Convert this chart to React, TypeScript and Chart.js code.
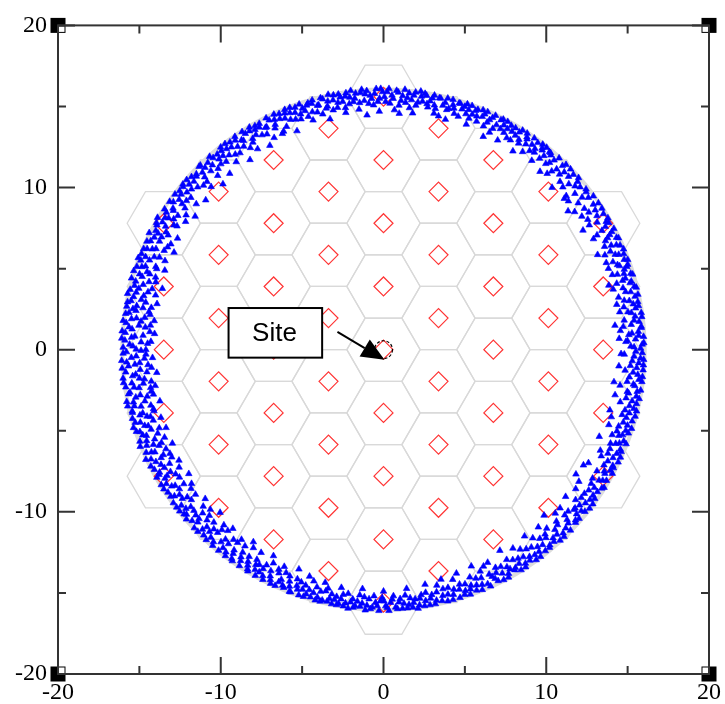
import React, { useEffect, useRef } from "react";
import { Chart, registerables } from "chart.js";

Chart.register(...registerables);

// ---- axes ----
const X_MIN = -20;
const X_MAX = 20;
const Y_MIN = -20;
const Y_MAX = 20;
const MAJOR_TICKS = [-20, -10, 0, 10, 20];
const MINOR_TICKS = [-15, -5, 5, 15];

// ---- cell sites (hexagon centres) ----
const SITE_X = [
  0, 0, 0, 0, 0, 0, 0, 0, 0,
  3.38, 3.38, 3.38, 3.38, 3.38, 3.38, 3.38, 3.38,
  -3.38, -3.38, -3.38, -3.38, -3.38, -3.38, -3.38, -3.38,
  6.75, 6.75, 6.75, 6.75, 6.75, 6.75, 6.75,
  -6.75, -6.75, -6.75, -6.75, -6.75, -6.75, -6.75,
  10.13, 10.13, 10.13, 10.13, 10.13, 10.13,
  -10.13, -10.13, -10.13, -10.13, -10.13, -10.13,
  13.5, 13.5, 13.5, 13.5, 13.5,
  -13.5, -13.5, -13.5, -13.5, -13.5,
];
const SITE_Y = [
  15.6, 11.7, 7.8, 3.9, 0, -3.9, -7.8, -11.7, -15.6,
  13.65, 9.75, 5.85, 1.95, -1.95, -5.85, -9.75, -13.65,
  13.65, 9.75, 5.85, 1.95, -1.95, -5.85, -9.75, -13.65,
  11.7, 7.8, 3.9, 0, -3.9, -7.8, -11.7,
  11.7, 7.8, 3.9, 0, -3.9, -7.8, -11.7,
  9.75, 5.85, 1.95, -1.95, -5.85, -9.75,
  9.75, 5.85, 1.95, -1.95, -5.85, -9.75,
  7.8, 3.9, 0, -3.9, -7.8,
  7.8, 3.9, 0, -3.9, -7.8,
];
const HEX_RADIUS = 2.25;
const HEX_HALF_HEIGHT = 1.95;
const COVERAGE_RADIUS = 16.05;

// ---- user positions: [angle in degrees, distance from site] ----
const UE_POLAR_A: [number, number][] = [
  [0.3, 15.8], [0.8, 15.2], [1.2, 15.9], [1.9, 14.9], [2.4, 15.5], [2.9, 16.0], [3.5, 15.1], [4.1, 15.7], [4.6, 14.6], [5.2, 15.9], [5.8, 15.3], [6.3, 15.8], [7.0, 14.9], [7.6, 15.6], [8.2, 16.0], [8.8, 15.2], [9.4, 15.7],
  [10.1, 15.0], [10.7, 15.9], [11.3, 15.4], [12.0, 15.8], [12.6, 14.8], [13.2, 15.6], [13.9, 16.0], [14.5, 15.2], [15.2, 15.7], [15.9, 14.9], [16.5, 15.5], [17.2, 15.9], [17.9, 15.1], [18.5, 15.6], [19.3, 15.9],
  [20.0, 15.3], [20.6, 15.8], [21.4, 14.7], [22.1, 15.6], [22.8, 16.0], [23.5, 15.2], [24.3, 15.7], [25.1, 15.0], [25.8, 15.9], [26.6, 15.4], [27.4, 15.8], [28.3, 14.9], [29.1, 15.6],
  [30.0, 15.8], [30.9, 15.3], [31.8, 15.9], [32.6, 14.9], [33.5, 15.6], [34.4, 16.0], [35.2, 15.1], [35.9, 14.5], [36.7, 15.7], [37.6, 15.4], [38.5, 15.9], [39.3, 15.2],
  [40.2, 14.7], [41.0, 15.8], [41.9, 15.3], [42.8, 15.9], [43.7, 15.0], [44.6, 15.6], [45.5, 16.0], [46.3, 15.4], [47.2, 14.8], [48.1, 15.7], [49.0, 15.2], [49.8, 15.9],
  [50.5, 15.5], [51.2, 16.0], [51.9, 15.8], [52.7, 15.3], [53.4, 15.9], [54.2, 15.6], [55.0, 14.9], [55.8, 15.7], [56.5, 16.0], [57.3, 15.4], [58.1, 15.8], [58.9, 15.1], [59.6, 15.6],
  [60.4, 15.9], [61.1, 15.3], [61.9, 15.7], [62.6, 16.0], [63.4, 15.5], [64.1, 14.9], [64.9, 15.8], [65.6, 15.4], [66.4, 16.0], [67.1, 15.6], [67.9, 15.2], [68.6, 15.9], [69.4, 15.5],
  [70.1, 16.0], [70.8, 15.4], [71.6, 15.8], [72.3, 15.1], [73.0, 15.9], [73.8, 15.5], [74.5, 16.0], [75.3, 15.3], [76.0, 15.7], [76.8, 14.8], [77.5, 15.9], [78.3, 15.4], [79.0, 15.8], [79.7, 15.2],
  [80.4, 15.9], [81.1, 15.5], [81.8, 16.1], [82.5, 15.2], [83.2, 15.8], [83.9, 15.0], [84.6, 15.6], [85.3, 16.1], [86.0, 15.4], [86.7, 15.9], [87.4, 14.8], [88.1, 15.7], [88.8, 16.1], [89.5, 15.3],
  [90.2, 15.9], [90.9, 15.5], [91.6, 16.1], [92.3, 15.1], [93.0, 15.7], [93.7, 16.0], [94.4, 15.4], [95.1, 15.9], [95.8, 14.9], [96.5, 15.6], [97.2, 16.1], [97.9, 15.3], [98.6, 15.8], [99.3, 15.5],
  [100.0, 16.0], [100.7, 15.2], [101.4, 15.7], [102.2, 16.1], [102.9, 15.4], [103.6, 15.9], [104.4, 15.0], [105.1, 15.6], [105.9, 16.0], [106.6, 15.3], [107.4, 15.8], [108.1, 15.5], [108.9, 16.0], [109.6, 15.1],
  [110.4, 15.6], [111.1, 16.0], [111.9, 15.3], [112.6, 15.8], [113.4, 15.0], [114.1, 15.6], [114.9, 16.0], [115.6, 15.4], [116.4, 15.8], [117.2, 14.7], [117.9, 15.5], [118.7, 15.9], [119.4, 15.2],
  [120.2, 15.7], [121.0, 16.0], [121.7, 15.3], [122.5, 15.8], [123.3, 14.9], [124.0, 15.6], [124.8, 16.0], [125.6, 15.4], [126.4, 15.9], [127.1, 15.1], [127.9, 15.7], [128.7, 16.0], [129.5, 15.5],
  [130.3, 15.8], [131.1, 15.2], [131.9, 16.0], [132.7, 15.5], [133.5, 14.8], [134.3, 15.7], [135.1, 16.0], [135.9, 15.3], [136.7, 15.8], [137.5, 15.0], [138.3, 15.6], [139.1, 16.0],
  [140.0, 15.4], [140.8, 15.9], [141.6, 15.1], [142.4, 15.7], [143.2, 16.0], [144.0, 15.3], [144.8, 15.8], [145.6, 14.7], [146.4, 15.5], [147.2, 16.0], [148.0, 15.2], [148.8, 15.7], [149.6, 16.1],
  [150.4, 15.4], [151.1, 15.9], [151.9, 15.0], [152.6, 15.6], [153.4, 16.1], [154.1, 15.3], [154.9, 15.8], [155.6, 14.8], [156.4, 15.5], [157.1, 16.0], [157.9, 15.2], [158.6, 15.7], [159.4, 16.1], [159.9, 14.9],
  [160.6, 15.5], [161.3, 16.0], [162.0, 15.1], [162.7, 15.7], [163.4, 14.6], [164.1, 16.1], [164.8, 15.3], [165.5, 15.8], [166.2, 14.9], [166.9, 15.6], [167.6, 16.1], [168.3, 15.2], [169.0, 15.8], [169.7, 14.5], [169.9, 15.4],
  [170.4, 16.0], [171.0, 15.4], [171.7, 15.8], [172.3, 14.8], [173.0, 15.6], [173.6, 16.1], [174.3, 15.1], [174.9, 15.7], [175.6, 14.4], [176.2, 15.9], [176.9, 15.3], [177.5, 16.1], [178.2, 14.9], [178.8, 15.6], [179.5, 16.0], [179.9, 15.2],
  [180.5, 15.8], [181.1, 14.6], [181.8, 15.5], [182.4, 16.1], [183.1, 15.0], [183.7, 15.7], [184.4, 14.3], [185.0, 15.9], [185.7, 15.3], [186.3, 16.1], [187.0, 14.8], [187.6, 15.6], [188.3, 16.0], [188.9, 15.2], [189.6, 15.8],
  [190.2, 14.5], [190.9, 15.5], [191.5, 16.1], [192.2, 15.0], [192.8, 15.7], [193.5, 14.7], [194.1, 15.9], [194.8, 15.3], [195.4, 16.0], [196.1, 14.9], [196.7, 15.6], [197.4, 16.1], [198.0, 15.2], [198.7, 15.8], [199.3, 14.6],
  [200.0, 15.5], [200.7, 16.0], [201.4, 15.1], [202.1, 15.7], [202.8, 14.8], [203.5, 15.9], [204.2, 15.4], [204.9, 16.1], [205.6, 15.0], [206.3, 15.6], [207.0, 14.6], [207.7, 15.9], [208.4, 15.3], [209.2, 15.8],
  [209.9, 15.1], [210.6, 15.6], [211.4, 16.0], [212.1, 14.8], [212.9, 15.5], [213.6, 15.9], [214.4, 15.2], [215.1, 15.7], [215.9, 14.6], [216.6, 15.4], [217.4, 16.0], [218.1, 15.0], [218.9, 15.6], [219.6, 15.9],
  [220.4, 15.3], [221.1, 14.7], [221.9, 15.8], [222.6, 15.4], [223.4, 16.0], [224.1, 15.1], [224.9, 15.7], [225.6, 14.9], [226.4, 15.5], [227.1, 16.0], [227.9, 15.2], [228.6, 15.8], [229.4, 14.7], [229.9, 15.5],
  [230.7, 16.0], [231.5, 15.3], [232.2, 15.8], [233.0, 14.9], [233.7, 15.6], [234.5, 16.0], [235.3, 15.2], [236.0, 15.7], [236.8, 14.6], [237.5, 15.5], [238.3, 15.9], [239.0, 15.1], [239.8, 15.7],
  [240.5, 16.0], [241.3, 15.4], [242.0, 15.8], [242.8, 14.8], [243.5, 15.6], [244.3, 16.0], [245.0, 15.2], [245.8, 15.7], [246.5, 15.0], [247.3, 15.9], [248.0, 15.4], [248.8, 16.0], [249.5, 15.1],
  [250.3, 15.7], [251.0, 16.0], [251.8, 15.3], [252.5, 15.8], [253.3, 14.9], [254.0, 15.6], [254.8, 16.0], [255.5, 15.4], [256.3, 15.9], [257.0, 15.1], [257.8, 15.7], [258.5, 16.0], [259.3, 15.5],
  [260.0, 15.9], [260.7, 15.3], [261.5, 15.8], [262.2, 16.1], [263.0, 15.5], [263.7, 15.9], [264.5, 15.2], [265.2, 15.7], [266.0, 16.1], [266.7, 15.4], [267.5, 15.9], [268.2, 15.6], [269.0, 16.1], [269.7, 15.3],
  [270.5, 15.8], [271.2, 16.1], [272.0, 15.4], [272.7, 15.9], [273.5, 15.6], [274.2, 16.0], [275.0, 15.2], [275.7, 15.8], [276.5, 16.0], [277.2, 15.5], [278.0, 15.9], [278.7, 15.3], [279.5, 15.7],
  [280.3, 16.0], [281.1, 15.4], [281.9, 15.8], [282.7, 14.9], [283.5, 15.6], [284.3, 16.0], [285.1, 15.2], [285.9, 15.7], [286.7, 14.8], [287.5, 15.5], [288.3, 15.9], [289.1, 15.3], [289.9, 15.7],
  [290.7, 15.0], [291.5, 15.6], [292.3, 16.0], [293.1, 15.3], [293.9, 15.8], [294.7, 14.7], [295.5, 15.5], [296.3, 15.9], [297.1, 15.1], [297.9, 15.6], [298.7, 16.0], [299.5, 15.4],
  [300.3, 15.0], [301.1, 15.7], [301.9, 16.0], [302.7, 15.3], [303.5, 15.8], [304.3, 14.9], [305.1, 15.6], [305.9, 16.0], [306.7, 15.2], [307.5, 15.7], [308.3, 14.8], [309.1, 15.5], [309.9, 15.9],
  [310.7, 15.3], [311.5, 15.8], [312.3, 14.9], [313.1, 15.6], [313.9, 16.0], [314.7, 15.2], [315.5, 15.7], [316.3, 14.6], [317.1, 15.4], [317.9, 15.9], [318.7, 15.1], [319.5, 15.6],
  [320.3, 15.3], [321.1, 15.9], [321.9, 15.0], [322.7, 15.6], [323.5, 16.0], [324.3, 15.2], [325.1, 15.7], [325.9, 14.5], [326.7, 15.5], [327.5, 15.9], [328.3, 15.1], [329.1, 15.7], [329.9, 14.2],
  [330.7, 15.6], [331.5, 16.0], [332.3, 15.3], [333.1, 15.8], [333.9, 14.9], [334.7, 15.6], [335.5, 16.0], [336.3, 15.2], [337.1, 15.8], [337.9, 15.4], [338.7, 16.0], [339.5, 15.0],
  [340.3, 15.6], [341.1, 15.9], [341.9, 15.2], [342.7, 15.7], [343.5, 14.6], [344.3, 15.5], [345.1, 16.0], [345.9, 15.3], [346.7, 15.8], [347.5, 14.9], [348.3, 15.6], [349.1, 16.0], [349.9, 15.3],
  [350.6, 15.8], [351.4, 14.7], [352.1, 15.5], [352.9, 16.0], [353.6, 15.2], [354.4, 15.7], [355.1, 14.9], [355.9, 15.6], [356.6, 16.0], [357.4, 15.3], [358.1, 15.8], [358.9, 14.8], [359.6, 15.5],
];

const UE_POLAR_B: [number, number][] = [
  [0.6, 15.4], [1.5, 16.0], [2.1, 15.0], [3.2, 15.7], [3.8, 15.3], [4.9, 15.9], [5.5, 14.8], [6.7, 15.5], [7.3, 16.0], [8.5, 15.4], [9.1, 14.7], [9.8, 15.9],
  [10.4, 15.6], [11.6, 15.1], [12.3, 16.0], [13.5, 15.3], [14.2, 15.9], [14.8, 14.6], [15.5, 15.8], [16.2, 15.3], [16.9, 16.0], [17.6, 15.5], [18.2, 14.8], [18.9, 15.8], [19.6, 15.4],
  [20.3, 16.0], [21.0, 15.1], [21.8, 15.9], [22.4, 15.4], [23.2, 14.8], [23.9, 15.9], [24.7, 15.4], [25.5, 16.0], [26.2, 15.2], [27.0, 15.6], [27.8, 16.0], [28.7, 15.3], [29.5, 15.9],
  [30.5, 16.0], [31.3, 14.8], [32.2, 15.5], [33.0, 16.0], [33.9, 15.2], [34.8, 15.7], [36.3, 16.0], [37.1, 15.0], [38.0, 15.8], [38.9, 14.6], [39.7, 15.7],
  [40.6, 15.5], [41.5, 16.0], [42.3, 14.9], [43.2, 15.6], [44.1, 16.0], [45.0, 15.3], [45.9, 15.8], [46.8, 15.1], [47.6, 16.0], [48.5, 15.4], [49.4, 15.8],
  [50.1, 15.9], [50.9, 15.2], [51.6, 15.7], [52.3, 16.0], [53.1, 15.5], [53.8, 15.2], [54.6, 16.0], [55.4, 15.4], [56.1, 15.8], [56.9, 15.2], [57.7, 16.0], [58.5, 15.5], [59.3, 15.9], [59.9, 15.1],
  [60.8, 15.6], [61.5, 16.0], [62.2, 15.4], [63.0, 15.9], [63.8, 15.2], [64.5, 16.0], [65.3, 15.6], [66.0, 15.1], [66.8, 15.8], [67.5, 16.0], [68.3, 15.5], [69.0, 15.8], [69.8, 15.2],
  [70.5, 15.7], [71.2, 16.0], [72.0, 15.6], [72.7, 15.9], [73.4, 15.2], [74.2, 15.7], [74.9, 15.4], [75.7, 16.0], [76.4, 15.5], [77.2, 15.9], [77.9, 15.2], [78.7, 16.0], [79.4, 15.6],
  [80.0, 15.4], [80.8, 16.0], [81.5, 15.8], [82.1, 15.4], [82.9, 16.0], [83.6, 15.5], [84.3, 15.9], [84.9, 15.3], [85.7, 15.7], [86.4, 15.1], [87.1, 16.0], [87.8, 15.5], [88.5, 15.2], [89.2, 15.9], [89.8, 15.6],
  [90.6, 16.1], [91.3, 15.3], [92.0, 15.8], [92.7, 15.5], [93.4, 15.2], [94.1, 15.8], [94.8, 16.1], [95.5, 15.3], [96.2, 15.9], [96.9, 15.4], [97.6, 15.7], [98.3, 16.0], [98.9, 15.1], [99.7, 15.8],
  [100.4, 15.5], [101.1, 16.0], [101.8, 15.1], [102.6, 15.7], [103.3, 15.3], [104.0, 16.0], [104.8, 15.6], [105.5, 15.2], [106.2, 15.8], [107.0, 15.9], [107.8, 15.1], [108.5, 15.7], [109.3, 15.4],
  [110.0, 15.9], [110.8, 15.2], [111.5, 15.7], [112.3, 16.0], [113.0, 15.5], [113.8, 15.9], [114.5, 14.8], [115.3, 15.7], [116.0, 15.2], [116.8, 16.0], [117.6, 15.5], [118.3, 15.1], [119.1, 15.7], [119.8, 15.9],
  [120.6, 15.4], [121.4, 15.8], [122.1, 15.1], [122.9, 16.0], [123.7, 15.5], [124.4, 15.2], [125.2, 15.8], [126.0, 15.0], [126.8, 15.6], [127.5, 16.0], [128.3, 15.3], [129.1, 15.8], [129.8, 15.1],
  [130.7, 15.5], [131.5, 15.8], [132.3, 15.1], [133.1, 15.8], [133.9, 15.3], [134.7, 16.0], [135.5, 15.6], [136.3, 15.0], [137.1, 15.7], [137.9, 15.9], [138.7, 15.2], [139.5, 15.7],
  [140.4, 16.0], [141.2, 15.5], [142.0, 15.9], [142.8, 15.2], [143.6, 15.6], [144.4, 15.0], [145.2, 16.0], [146.0, 15.6], [146.8, 15.1], [147.6, 15.8], [148.4, 15.5], [149.2, 15.0], [149.9, 15.7],
  [150.7, 16.0], [151.5, 15.2], [152.3, 15.8], [153.0, 15.3], [153.8, 15.7], [154.5, 14.7], [155.3, 16.0], [156.0, 15.3], [156.8, 15.8], [157.5, 14.9], [158.3, 16.0], [159.0, 15.4], [159.7, 15.9],
  [160.3, 14.8], [161.0, 15.7], [161.7, 15.3], [162.4, 16.1], [163.1, 15.5], [163.8, 15.0], [164.5, 15.8], [165.2, 14.7], [165.9, 15.5], [166.6, 16.0], [167.3, 15.1], [168.0, 15.7], [168.7, 14.9], [169.4, 16.0],
  [170.1, 15.0], [170.7, 15.6], [171.4, 14.5], [172.0, 16.0], [172.7, 15.3], [173.3, 15.0], [174.0, 15.9], [174.6, 14.7], [175.3, 15.5], [175.9, 16.1], [176.6, 14.8], [177.2, 15.5], [177.9, 15.9], [178.5, 14.5], [179.2, 15.4],
  [180.2, 14.9], [180.8, 16.0], [181.5, 15.2], [182.1, 14.7], [182.8, 15.8], [183.4, 15.3], [184.1, 16.1], [184.7, 15.0], [185.4, 14.6], [186.0, 15.5], [186.7, 15.1], [187.3, 16.1], [188.0, 14.9], [188.6, 15.5], [189.3, 14.5], [189.9, 15.9],
  [190.6, 15.2], [191.2, 14.8], [191.9, 15.7], [192.5, 16.1], [193.2, 15.3], [193.8, 15.9], [194.5, 14.6], [195.1, 15.5], [195.8, 15.1], [196.4, 15.9], [197.1, 14.8], [197.7, 15.4], [198.4, 16.0], [199.0, 15.1], [199.6, 15.7],
  [200.4, 14.8], [201.1, 15.6], [201.8, 16.1], [202.5, 15.3], [203.2, 15.0], [203.9, 15.6], [204.6, 14.7], [205.3, 15.8], [206.0, 15.2], [206.7, 16.0], [207.4, 15.4], [208.1, 14.9], [208.8, 15.7], [209.5, 16.0],
  [210.3, 15.4], [211.0, 14.9], [211.8, 15.7], [212.5, 16.0], [213.2, 15.3], [214.0, 14.8], [214.7, 15.9], [215.5, 15.4], [216.2, 16.0], [217.0, 15.1], [217.7, 15.7], [218.5, 16.0], [219.3, 15.3],
  [220.0, 15.8], [220.8, 16.0], [221.5, 15.4], [222.2, 15.0], [223.0, 15.6], [223.7, 14.8], [224.5, 16.0], [225.2, 15.4], [226.0, 15.9], [226.7, 15.2], [227.5, 15.7], [228.2, 14.9], [229.0, 16.0],
  [230.3, 15.2], [231.1, 15.7], [231.8, 14.9], [232.6, 16.0], [233.4, 15.4], [234.1, 15.9], [234.9, 14.8], [235.6, 15.5], [236.4, 16.0], [237.1, 15.2], [237.9, 15.7], [238.6, 16.0], [239.4, 15.4],
  [240.1, 15.3], [240.9, 15.7], [241.6, 15.1], [242.4, 16.0], [243.1, 15.3], [243.9, 15.8], [244.6, 15.0], [245.4, 16.0], [246.1, 15.5], [246.9, 15.8], [247.6, 15.1], [248.4, 15.7], [249.1, 16.0], [249.9, 15.5],
  [250.6, 15.2], [251.4, 15.6], [252.1, 16.0], [252.9, 15.5], [253.6, 15.9], [254.4, 15.2], [255.1, 15.8], [255.9, 16.0], [256.6, 15.3], [257.4, 15.9], [258.1, 15.4], [258.9, 15.7], [259.6, 16.0],
  [260.4, 15.6], [261.1, 16.0], [261.8, 15.2], [262.6, 15.7], [263.3, 16.0], [264.1, 15.6], [264.8, 15.9], [265.6, 15.3], [266.3, 15.8], [267.1, 16.0], [267.8, 15.2], [268.6, 15.8], [269.3, 15.5],
  [270.1, 15.5], [270.8, 15.9], [271.6, 15.6], [272.3, 15.2], [273.1, 16.0], [273.8, 15.4], [274.6, 15.7], [275.3, 16.0], [276.1, 15.4], [276.8, 15.7], [277.6, 16.1], [278.3, 15.5], [279.1, 16.0], [279.8, 15.2],
  [280.7, 15.6], [281.5, 16.0], [282.3, 15.3], [283.1, 15.9], [283.9, 15.2], [284.7, 15.6], [285.5, 16.0], [286.3, 15.4], [287.1, 16.0], [287.9, 15.2], [288.7, 15.7], [289.5, 16.0],
  [290.3, 15.5], [291.1, 15.9], [291.9, 15.2], [292.7, 15.7], [293.5, 14.9], [294.3, 16.0], [295.1, 15.3], [295.9, 15.7], [296.7, 15.4], [297.5, 16.0], [298.3, 15.2], [299.1, 15.8], [299.9, 15.6],
  [300.7, 15.8], [301.5, 15.2], [302.3, 15.6], [303.1, 16.0], [303.9, 15.4], [304.7, 15.8], [305.5, 15.1], [306.3, 15.7], [307.1, 16.0], [307.9, 15.4], [308.7, 15.9], [309.5, 15.1],
  [310.3, 15.8], [311.1, 15.1], [311.9, 15.6], [312.7, 16.0], [313.5, 15.3], [314.3, 15.8], [315.1, 15.0], [315.9, 16.0], [316.7, 15.6], [317.5, 15.1], [318.3, 15.8], [319.1, 15.9], [319.9, 15.3],
  [320.7, 15.7], [321.5, 15.4], [322.3, 16.0], [323.1, 15.2], [323.9, 15.7], [324.7, 15.9], [325.5, 15.3], [326.3, 15.8], [327.1, 15.2], [327.9, 16.0], [328.7, 15.5], [329.5, 15.9],
  [330.3, 15.1], [331.1, 15.5], [331.9, 15.8], [332.7, 15.9], [333.5, 15.4], [334.3, 16.0], [335.1, 15.2], [335.9, 15.7], [336.7, 15.9], [337.5, 15.1], [338.3, 15.6], [339.1, 15.8], [339.9, 15.4],
  [340.7, 15.2], [341.5, 15.7], [342.3, 16.0], [343.1, 15.4], [343.9, 15.9], [344.7, 15.2], [345.5, 15.6], [346.3, 16.0], [347.1, 15.5], [347.9, 15.9], [348.7, 15.2], [349.5, 15.8],
  [350.2, 15.2], [351.0, 16.0], [351.8, 15.6], [352.5, 15.1], [353.3, 15.8], [354.0, 16.0], [354.8, 15.4], [355.5, 16.0], [356.3, 15.2], [357.0, 15.7], [357.8, 16.0], [358.5, 15.4], [359.3, 15.9],
];

// inner stragglers of the user band
const UE_POLAR_C: [number, number][] = [
  [2.7, 14.5], [6.0, 14.3], [11.0, 14.6], [16.0, 14.4], [19.9, 14.7], [24.0, 14.4], [27.9, 14.6], [31.0, 14.3], [34.0, 14.7], [37.0, 14.2],
  [40.0, 14.5], [44.0, 14.4], [48.8, 14.6], [52.0, 14.8], [57.0, 14.6], [61.5, 14.7], [65.0, 14.5], [69.9, 14.8], [75.0, 14.7], [78.0, 14.9],
  [83.0, 14.7], [86.2, 14.6], [91.0, 14.7], [94.0, 14.5], [99.0, 14.8], [103.0, 14.6], [107.0, 14.8], [111.5, 14.5], [115.0, 14.7], [119.0, 14.4],
  [122.0, 14.6], [125.0, 14.3], [128.0, 14.7], [131.0, 14.4], [134.0, 14.2], [136.5, 14.6], [139.8, 14.3], [142.0, 14.6], [144.6, 14.2], [147.0, 14.5],
  [149.0, 14.8], [151.5, 14.4], [153.5, 14.6], [155.0, 14.2], [157.8, 14.5], [160.0, 14.3], [162.3, 14.7], [164.5, 14.1], [166.5, 14.4], [168.5, 14.2],
  [170.8, 14.6], [172.8, 14.2], [174.0, 14.4], [176.0, 14.1], [178.0, 14.3], [180.0, 14.6], [182.0, 14.2], [183.7, 14.5], [185.8, 14.0], [187.8, 14.4],
  [189.0, 14.2], [191.0, 14.4], [193.0, 14.1], [195.0, 14.6], [197.0, 14.3], [199.8, 14.2], [201.9, 14.5], [204.0, 14.2], [206.0, 14.6], [208.5, 14.3],
  [210.0, 14.5], [212.6, 14.2], [215.0, 14.4], [217.7, 14.6], [220.0, 14.3], [222.8, 14.5], [225.0, 14.2], [227.8, 14.6], [230.0, 14.4], [233.3, 14.6],
  [236.0, 14.3], [239.0, 14.6], [242.0, 14.4], [245.5, 14.7], [249.0, 14.5], [252.0, 14.7], [256.0, 14.8], [260.0, 14.9], [265.0, 14.8], [270.0, 14.9],
  [275.5, 14.8], [280.0, 14.7], [284.0, 14.6], [288.0, 14.5], [292.0, 14.4], [296.0, 14.6], [300.0, 14.3], [303.0, 14.6], [307.0, 14.4], [311.0, 14.5],
  [314.0, 14.2], [318.0, 14.6], [321.0, 14.4], [324.0, 14.6], [327.0, 14.1], [331.0, 14.4], [335.0, 14.7], [338.0, 14.3], [341.5, 14.6], [345.0, 14.4],
  [348.9, 14.5], [352.0, 14.3], [356.0, 14.5], [359.0, 14.6],
];

// ---- annotation ("Site" box and arrow), in data units ----
const LABEL_TEXT = "Site";
const LABEL_BOX = { x1: -9.52, x2: -3.77, y1: 2.57, y2: -0.49 };
const LABEL_POS = { x: -6.7, y: 1.0 };
const ARROW_FROM = { x: -2.83, y: 1.1 };
const ARROW_TO = { x: 0.06, y: -0.62 };
const SITE_MARK_RADIUS = 0.55;

const SERIF = "'Liberation Serif', 'Times New Roman', serif";

const backgroundPlugin = {
  id: "hexBackground",
  beforeDatasetsDraw(chart: any) {
    const { ctx, scales } = chart;
    const xs = scales.x;
    const ys = scales.y;
    const area = chart.chartArea;
    ctx.save();
    ctx.beginPath();
    ctx.rect(area.left, area.top, area.right - area.left, area.bottom - area.top);
    ctx.clip();
    ctx.strokeStyle = "#d9d9d9";
    ctx.lineWidth = 1.3;
    for (let i = 0; i < SITE_X.length; i++) {
      const cx = SITE_X[i];
      const cy = SITE_Y[i];
      const verts = [
        [cx + HEX_RADIUS, cy],
        [cx + HEX_RADIUS / 2, cy + HEX_HALF_HEIGHT],
        [cx - HEX_RADIUS / 2, cy + HEX_HALF_HEIGHT],
        [cx - HEX_RADIUS, cy],
        [cx - HEX_RADIUS / 2, cy - HEX_HALF_HEIGHT],
        [cx + HEX_RADIUS / 2, cy - HEX_HALF_HEIGHT],
      ];
      ctx.beginPath();
      verts.forEach(([vx, vy], k) => {
        const px = xs.getPixelForValue(vx);
        const py = ys.getPixelForValue(vy);
        if (k === 0) ctx.moveTo(px, py);
        else ctx.lineTo(px, py);
      });
      ctx.closePath();
      ctx.stroke();
    }
    const ox = xs.getPixelForValue(0);
    const oy = ys.getPixelForValue(0);
    const rx = xs.getPixelForValue(COVERAGE_RADIUS) - ox;
    const ry = oy - ys.getPixelForValue(COVERAGE_RADIUS);
    ctx.strokeStyle = "#dcdcdc";
    ctx.lineWidth = 4;
    ctx.beginPath();
    ctx.ellipse(ox, oy, rx, ry, 0, 0, Math.PI * 2);
    ctx.stroke();
    ctx.restore();
  },
};

const overlayPlugin = {
  id: "frameAndLabel",
  afterDraw(chart: any) {
    const { ctx, scales } = chart;
    const xs = scales.x;
    const ys = scales.y;
    const L = xs.getPixelForValue(X_MIN);
    const R = xs.getPixelForValue(X_MAX);
    const T = ys.getPixelForValue(Y_MAX);
    const B = ys.getPixelForValue(Y_MIN);
    ctx.save();

    const ox = xs.getPixelForValue(0);
    const oy = ys.getPixelForValue(0);
    const sr = xs.getPixelForValue(SITE_MARK_RADIUS) - ox;
    ctx.strokeStyle = "#000";
    ctx.lineWidth = 1.2;
    ctx.setLineDash([3, 2]);
    ctx.beginPath();
    ctx.arc(ox, oy, sr, 0, Math.PI * 2);
    ctx.stroke();
    ctx.setLineDash([]);

    const bx1 = xs.getPixelForValue(LABEL_BOX.x1);
    const bx2 = xs.getPixelForValue(LABEL_BOX.x2);
    const by1 = ys.getPixelForValue(LABEL_BOX.y1);
    const by2 = ys.getPixelForValue(LABEL_BOX.y2);
    ctx.fillStyle = "#fff";
    ctx.fillRect(bx1, by1, bx2 - bx1, by2 - by1);
    ctx.strokeStyle = "#000";
    ctx.lineWidth = 2;
    ctx.strokeRect(bx1, by1, bx2 - bx1, by2 - by1);
    ctx.fillStyle = "#000";
    ctx.font = "26px 'Liberation Sans', Arial, sans-serif";
    ctx.textAlign = "center";
    ctx.textBaseline = "middle";
    ctx.fillText(LABEL_TEXT, xs.getPixelForValue(LABEL_POS.x), ys.getPixelForValue(LABEL_POS.y));

    const ax1 = xs.getPixelForValue(ARROW_FROM.x);
    const ay1 = ys.getPixelForValue(ARROW_FROM.y);
    const ax2 = xs.getPixelForValue(ARROW_TO.x);
    const ay2 = ys.getPixelForValue(ARROW_TO.y);
    const ang = Math.atan2(ay2 - ay1, ax2 - ax1);
    const headLen = 23;
    const headHalf = 10;
    const bxh = ax2 - Math.cos(ang) * headLen;
    const byh = ay2 - Math.sin(ang) * headLen;
    ctx.strokeStyle = "#000";
    ctx.lineWidth = 2;
    ctx.beginPath();
    ctx.moveTo(ax1, ay1);
    ctx.lineTo(bxh, byh);
    ctx.stroke();
    ctx.beginPath();
    ctx.moveTo(ax2, ay2);
    ctx.lineTo(bxh + Math.sin(ang) * headHalf, byh - Math.cos(ang) * headHalf);
    ctx.lineTo(bxh - Math.sin(ang) * headHalf, byh + Math.cos(ang) * headHalf);
    ctx.closePath();
    ctx.fill();

    const corners: [number, number, number, number][] = [
      [L, T, 1, 1],
      [R, T, -1, 1],
      [L, B, 1, -1],
      [R, B, -1, -1],
    ];
    corners.forEach(([cx, cy, sx, sy]) => {
      ctx.fillStyle = "#000";
      ctx.fillRect(cx - 7.5, cy - 7.5, 15, 15);
      ctx.fillStyle = "#fff";
      const wx = sx > 0 ? cx + 1 : cx - 6.5;
      const wy = sy > 0 ? cy + 1 : cy - 6.5;
      ctx.fillRect(wx, wy, 5.5, 5.5);
    });

    ctx.strokeStyle = "#333";
    ctx.lineWidth = 2;
    ctx.strokeRect(L, T, R - L, B - T);

    const tick = (v: number, len: number) => {
      const px = xs.getPixelForValue(v);
      const py = ys.getPixelForValue(v);
      ctx.beginPath();
      ctx.moveTo(px, B);
      ctx.lineTo(px, B - len);
      ctx.moveTo(px, T);
      ctx.lineTo(px, T + len);
      ctx.moveTo(L, py);
      ctx.lineTo(L + len, py);
      ctx.moveTo(R, py);
      ctx.lineTo(R - len, py);
      ctx.stroke();
    };
    MAJOR_TICKS.forEach((v) => tick(v, 17));
    MINOR_TICKS.forEach((v) => tick(v, 8));
    ctx.restore();
  },
};

export default function App() {
  const canvasRef = useRef<HTMLCanvasElement | null>(null);

  useEffect(() => {
    const canvas = canvasRef.current;
    if (!canvas) return;
    const toXY = ([a, r]: [number, number]) => ({
      x: r * Math.cos((a * Math.PI) / 180),
      y: r * Math.sin((a * Math.PI) / 180),
    });
    const uePoints = [...UE_POLAR_A, ...UE_POLAR_B, ...UE_POLAR_C].map(toXY);
    const sitePoints = SITE_X.map((x, i) => ({ x, y: SITE_Y[i] }));

    const chart = new Chart(canvas, {
      type: "scatter",
      data: {
        datasets: [
          {
            label: "UE",
            data: uePoints,
            pointStyle: "triangle",
            pointRadius: 3.8,
            backgroundColor: "#0000ff",
            borderColor: "#0000ff",
            borderWidth: 0.6,
            order: 0,
          },
          {
            label: "Sites",
            data: sitePoints,
            pointStyle: "rectRot",
            pointRadius: 9.5,
            backgroundColor: "rgba(0,0,0,0)",
            borderColor: "#ff3535",
            borderWidth: 1.2,
            order: 1,
          },
        ],
      },
      options: {
        animation: false,
        responsive: false,
        events: [],
        layout: { padding: { top: 19, right: 14, bottom: 0, left: 0 } },
        plugins: {
          legend: { display: false },
          tooltip: { enabled: false },
        },
        scales: {
          x: {
            type: "linear",
            min: X_MIN,
            max: X_MAX,
            grid: { display: false, drawTicks: false },
            border: { display: false },
            ticks: {
              stepSize: 10,
              padding: 4,
              color: "#000",
              font: { family: SERIF, size: 24 },
              maxRotation: 0,
            },
            afterFit: (s: any) => {
              s.height = 30;
            },
          },
          y: {
            type: "linear",
            min: Y_MIN,
            max: Y_MAX,
            grid: { display: false, drawTicks: false },
            border: { display: false },
            ticks: {
              stepSize: 10,
              padding: 11,
              color: "#000",
              font: { family: SERIF, size: 24 },
            },
            afterFit: (s: any) => {
              s.width = 58;
            },
          },
        },
      },
      plugins: [backgroundPlugin, overlayPlugin],
    });
    return () => chart.destroy();
  }, []);

  return (
    <div style={{ position: "fixed", left: 0, top: 0, width: 725, height: 704, background: "#fff" }}>
      <canvas ref={canvasRef} width={725} height={704} style={{ display: "block" }} />
    </div>
  );
}
